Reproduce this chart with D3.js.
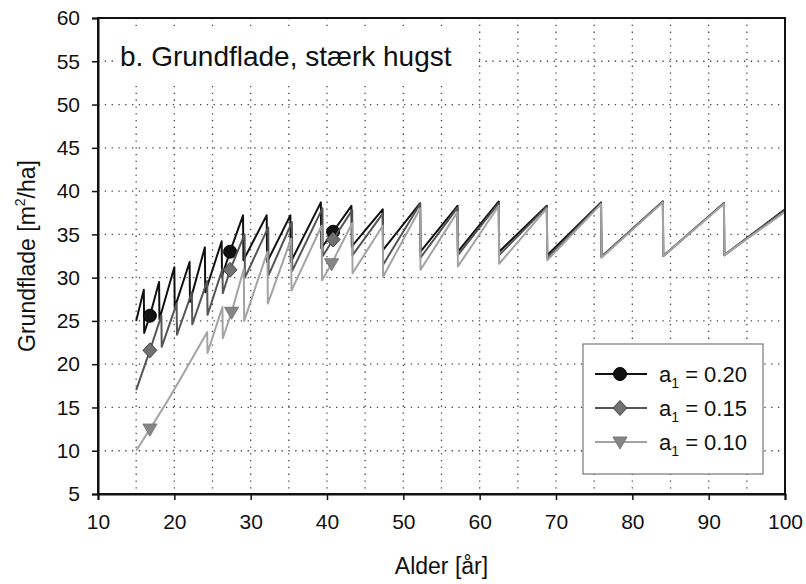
<!DOCTYPE html>
<html>
<head>
<meta charset="utf-8">
<script src="https://cdn.jsdelivr.net/npm/d3@7"></script>
<style>
  body { margin: 0; background: #fff; }
  svg { display: block; font-family: "Liberation Sans", Arial, sans-serif; }
</style>
</head>
<body>
<svg id="chart" width="806" height="584"></svg>
<script>
// ages [år] and basal area [m2/ha]
const ages20 = [15, 16, 16.05, 16.8, 18, 18.05, 20, 20.05, 22, 22.05, 24, 24.05, 26.2, 26.25, 27.3, 29, 29.05, 32.1, 32.15, 35.2, 35.25, 39.2, 39.25, 40.8, 43.2, 43.25, 47.3, 47.35, 52.2, 52.25, 57.1, 57.15, 62.5, 62.55, 68.8, 68.85, 75.9, 75.95, 84, 84.05, 92, 92.05, 100];
const vals20 = [25.0, 28.6, 23.6, 25.6, 29.5, 25.2, 31.2, 26.5, 31.8, 27.2, 33.5, 28.3, 34.2, 30.2, 33.0, 37.2, 32.0, 37.2, 31.8, 37.2, 31.8, 38.7, 33.4, 35.3, 38.3, 33.6, 37.9, 33.2, 38.6, 33.0, 38.3, 33.0, 38.8, 33.0, 38.3, 32.6, 38.7, 32.4, 38.8, 32.5, 38.6, 32.6, 37.9];

const ages15 = [15, 16.8, 18.3, 18.35, 20.3, 20.35, 22.3, 22.35, 24.3, 24.35, 26.3, 26.35, 27.3, 29.2, 29.25, 32.3, 32.35, 35.4, 35.45, 39.4, 39.45, 40.8, 43.3, 43.35, 47.3, 47.35, 52.2, 52.25, 57.1, 57.15, 62.5, 62.55, 68.8, 68.85, 75.9, 75.95, 84, 84.05, 92, 92.05, 100];
const vals15 = [17.0, 21.6, 25.6, 22.0, 27.0, 23.4, 28.3, 24.6, 29.6, 25.7, 31.0, 28.2, 30.9, 35.0, 30.0, 35.8, 30.3, 36.4, 30.8, 38.0, 32.5, 34.4, 37.8, 32.6, 37.4, 31.5, 38.5, 32.3, 38.1, 32.6, 38.6, 32.6, 38.2, 32.3, 38.6, 32.4, 38.8, 32.5, 38.6, 32.6, 37.8];

const ages10 = [15, 16.8, 19, 21, 23, 24.3, 24.35, 26.3, 26.35, 27.5, 29.1, 29.15, 32.2, 32.25, 35.3, 35.35, 39.3, 39.35, 40.6, 43.3, 43.35, 47.3, 47.35, 52.2, 52.25, 57.1, 57.15, 62.5, 62.55, 68.8, 68.85, 75.9, 75.95, 84, 84.05, 92, 92.05, 100];
const vals10 = [10.0, 12.5, 15.6, 18.6, 21.7, 23.7, 21.3, 26.6, 23.0, 26.0, 31.0, 25.0, 33.0, 27.0, 34.5, 28.5, 36.0, 29.7, 31.6, 36.3, 30.5, 36.0, 30.1, 38.0, 30.9, 37.6, 31.3, 38.3, 31.6, 38.0, 32.0, 38.5, 32.3, 38.7, 32.5, 38.5, 32.6, 37.6];

// ages where a marker sits on each curve
const markerAges20 = [16.8, 27.3, 40.8];
const markerAges15 = [16.8, 27.3, 40.8];
const markerAges10 = [16.8, 27.5, 40.6];

const seriesNames = ["0.20", "0.15", "0.10"];
const xTicks = [10, 20, 30, 40, 50, 60, 70, 80, 90, 100];
const yTicks = [5, 10, 15, 20, 25, 30, 35, 40, 45, 50, 55, 60];

const svg = d3.select("#chart");
const plotL = 98, plotR = 785, plotT = 18, plotB = 494;

const x = d3.scaleLinear().domain([10, 100]).range([plotL, plotR]);
const y = d3.scaleLinear().domain([5, 60]).range([plotB, plotT]);

// dotted grid
const grid = svg.append("g").attr("class", "grid")
  .attr("stroke", "#444").attr("stroke-width", 1.3).attr("stroke-dasharray", "1.3,5.5");
grid.selectAll("line.v").data(d3.range(15, 100, 5)).enter().append("line")
  .attr("x1", d => x(d)).attr("x2", d => x(d)).attr("y1", plotT).attr("y2", plotB);
grid.selectAll("line.h").data(d3.range(10, 60, 5)).enter().append("line")
  .attr("x1", plotL).attr("x2", plotR).attr("y1", d => y(d)).attr("y2", d => y(d));

// title box hides grid behind it
svg.append("rect").attr("x", 118).attr("y", 26).attr("width", 357).attr("height", 60).attr("fill", "#fff");
svg.append("text").attr("x", 120).attr("y", 66).attr("font-size", 28).attr("fill", "#111")
  .text("b. Grundflade, stærk hugst");

const line = d3.line().x(d => x(d[0])).y(d => y(d[1]));

const styles = [
  {ages: ages20, vals: vals20, marks: markerAges20, stroke: "#111", fill: "#111", mstroke: "#000", shape: "circle"},
  {ages: ages15, vals: vals15, marks: markerAges15, stroke: "#555", fill: "#707070", mstroke: "#444", shape: "diamond"},
  {ages: ages10, vals: vals10, marks: markerAges10, stroke: "#a3a3a3", fill: "#858585", mstroke: "#777", shape: "tri"}
];

function marker(g, shape, cx, cy, fill, stroke) {
  if (shape === "circle") {
    g.append("circle").attr("cx", cx).attr("cy", cy).attr("r", 6.5).attr("fill", fill).attr("stroke", stroke);
  } else if (shape === "diamond") {
    g.append("path").attr("d", `M${cx},${cy - 7.5}L${cx + 7},${cy}L${cx},${cy + 7.5}L${cx - 7},${cy}Z`)
      .attr("fill", fill).attr("stroke", stroke);
  } else {
    g.append("path").attr("d", `M${cx - 7},${cy - 5}L${cx + 7},${cy - 5}L${cx},${cy + 7}Z`)
      .attr("fill", fill).attr("stroke", stroke);
  }
}

styles.forEach(s => {
  const pts = s.ages.map((a, i) => [a, s.vals[i]]);
  const g = svg.append("g");
  g.append("path").attr("d", line(pts)).attr("fill", "none")
    .attr("stroke", s.stroke).attr("stroke-width", 2).attr("stroke-linejoin", "round");
  pts.filter(p => s.marks.includes(p[0])).forEach(p => {
    marker(g, s.shape, x(p[0]), y(p[1]), s.fill, s.mstroke);
  });
});

// frame and axes
svg.append("rect").attr("x", plotL).attr("y", plotT).attr("width", plotR - plotL).attr("height", plotB - plotT)
  .attr("fill", "none").attr("stroke", "#111").attr("stroke-width", 2);

const xAxis = svg.append("g").attr("transform", `translate(0,${plotB})`)
  .call(d3.axisBottom(x).tickValues(xTicks).tickSize(6).tickPadding(14).tickFormat(d3.format("d")));
const yAxis = svg.append("g").attr("transform", `translate(${plotL},0)`)
  .call(d3.axisLeft(y).tickValues(yTicks).tickSize(6).tickPadding(12).tickFormat(d3.format("d")));
[xAxis, yAxis].forEach(a => {
  a.select(".domain").attr("stroke", "#111").attr("stroke-width", 2);
  a.selectAll(".tick line").attr("stroke", "#111").attr("stroke-width", 1.5);
  a.selectAll(".tick text").attr("font-size", 21).attr("fill", "#111")
    .attr("font-family", "'Liberation Sans', Arial, sans-serif");
});

// axis titles
svg.append("text").attr("x", (plotL + plotR) / 2).attr("y", 574).attr("text-anchor", "middle")
  .attr("font-size", 23).attr("fill", "#111").text("Alder [år]");
const yt = svg.append("text").attr("transform", `translate(35,${(plotT + plotB) / 2}) rotate(-90)`)
  .attr("text-anchor", "middle").attr("font-size", 23).attr("fill", "#111");
yt.append("tspan").text("Grundflade [m");
yt.append("tspan").attr("font-size", 14).attr("dy", -10).text("2");
yt.append("tspan").attr("dy", 10).text("/ha]");

// legend
const lg = svg.append("g");
lg.append("rect").attr("x", 583).attr("y", 344).attr("width", 180).attr("height", 130)
  .attr("fill", "#fff").attr("stroke", "#777").attr("stroke-width", 1.2);
styles.forEach((s, i) => {
  const ly = 374 + i * 34;
  lg.append("line").attr("x1", 595).attr("x2", 647).attr("y1", ly).attr("y2", ly)
    .attr("stroke", s.stroke).attr("stroke-width", 2);
  marker(lg, s.shape, 620, ly, s.fill, s.mstroke);
  const t = lg.append("text").attr("x", 659).attr("y", ly + 8).attr("font-size", 22).attr("fill", "#111");
  t.append("tspan").text("a");
  t.append("tspan").attr("font-size", 14).attr("dy", 6).text("1");
  t.append("tspan").attr("dy", -6).text(" = " + seriesNames[i]);
});
</script>
</body>
</html>
